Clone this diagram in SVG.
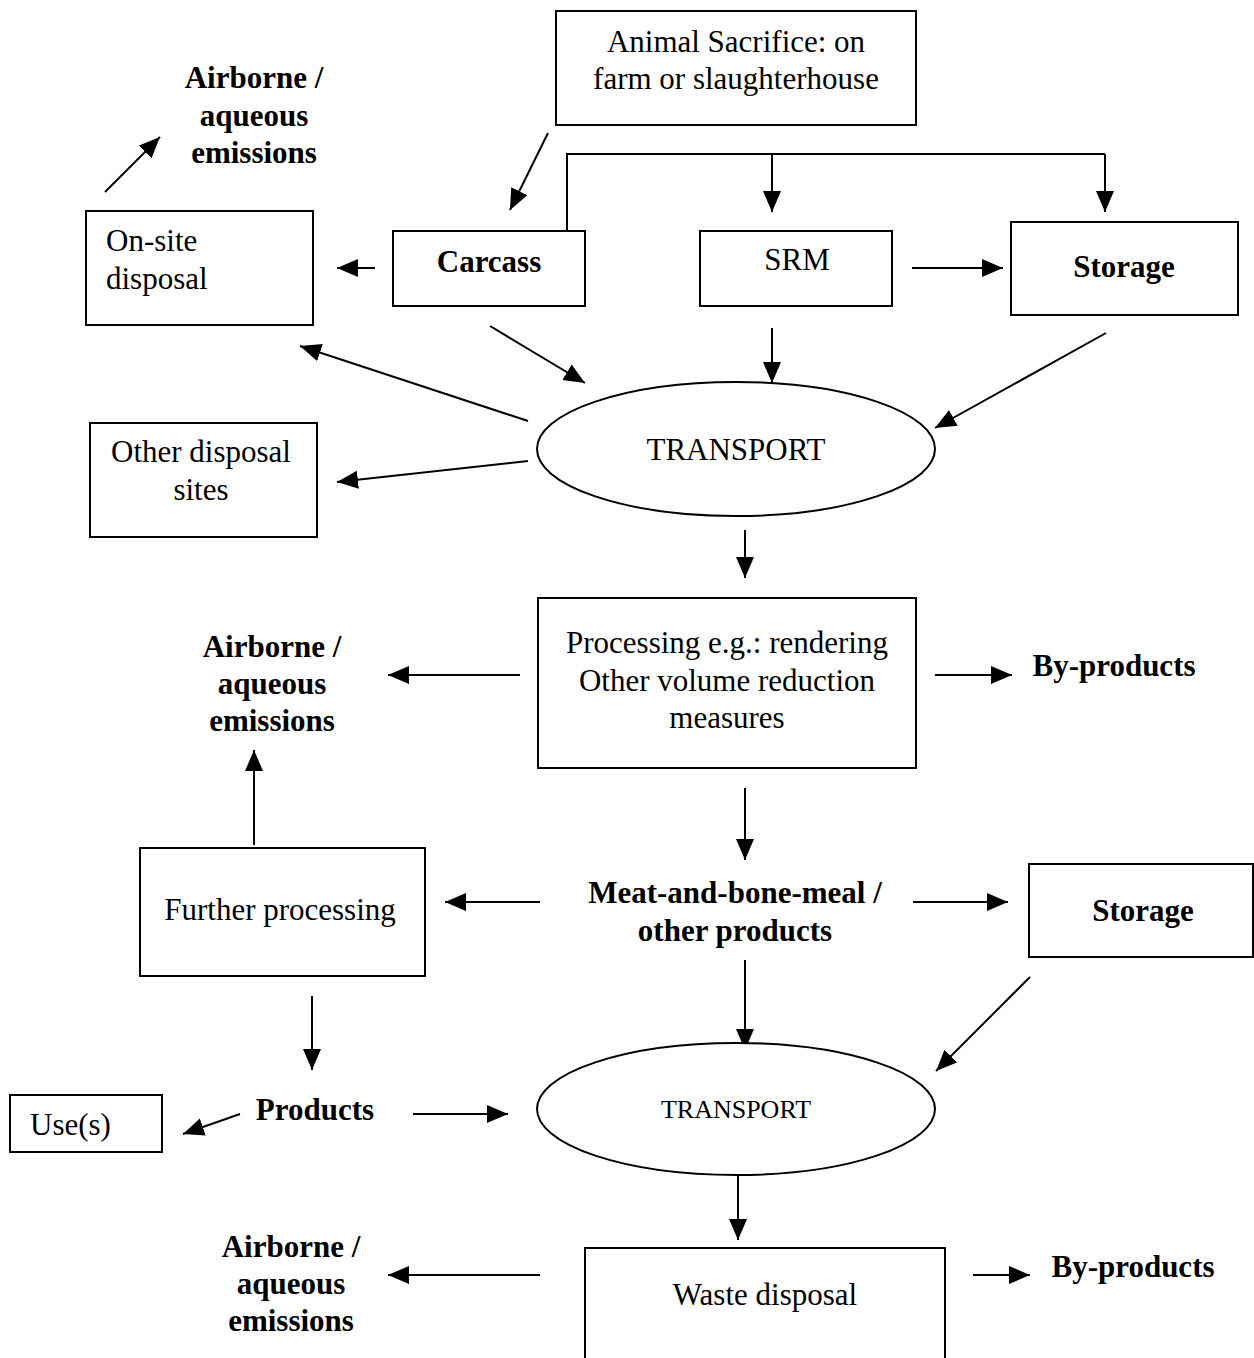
<svg xmlns="http://www.w3.org/2000/svg" width="1254" height="1358" viewBox="0 0 1254 1358">
<style>
.box{fill:#fff;stroke:#000;stroke-width:2}
.t{font-family:"Liberation Serif","Times New Roman",serif;font-size:31px;fill:#000}
.c{text-anchor:middle}
.b{font-weight:bold}
.ln{fill:none;stroke:#000;stroke-width:2}
</style>
<defs>
<marker id="ah" markerUnits="userSpaceOnUse" markerWidth="22" markerHeight="20" refX="21" refY="9" orient="auto">
<path d="M0,0 L21,9 L0,18 z" fill="#000"/>
</marker>
</defs>
<rect width="1254" height="1358" fill="#fff"/>

<g id="connectors">
<path class="ln" d="M567,231 V154 H1105"/>
<line class="ln" x1="772" y1="154" x2="772" y2="212" marker-end="url(#ah)"/>
<line class="ln" x1="1105" y1="154" x2="1105" y2="212" marker-end="url(#ah)"/>
<line class="ln" x1="548" y1="133" x2="510" y2="210" marker-end="url(#ah)"/>
<line class="ln" x1="105" y1="192" x2="160" y2="137" marker-end="url(#ah)"/>
<line class="ln" x1="375" y1="268" x2="337" y2="268" marker-end="url(#ah)"/>
<line class="ln" x1="912" y1="268" x2="1003" y2="268" marker-end="url(#ah)"/>
<line class="ln" x1="490" y1="326" x2="585" y2="383" marker-end="url(#ah)"/>
<line class="ln" x1="772" y1="328" x2="772" y2="383" marker-end="url(#ah)"/>
<line class="ln" x1="1106" y1="333" x2="935" y2="428" marker-end="url(#ah)"/>
<line class="ln" x1="528" y1="421" x2="300" y2="346" marker-end="url(#ah)"/>
<line class="ln" x1="528" y1="461" x2="337" y2="482" marker-end="url(#ah)"/>
<line class="ln" x1="745" y1="530" x2="745" y2="578" marker-end="url(#ah)"/>
<line class="ln" x1="520" y1="675" x2="388" y2="675" marker-end="url(#ah)"/>
<line class="ln" x1="935" y1="675" x2="1012" y2="675" marker-end="url(#ah)"/>
<line class="ln" x1="745" y1="788" x2="745" y2="860" marker-end="url(#ah)"/>
<line class="ln" x1="540" y1="902" x2="445" y2="902" marker-end="url(#ah)"/>
<line class="ln" x1="254" y1="845" x2="254" y2="750" marker-end="url(#ah)"/>
<line class="ln" x1="913" y1="902" x2="1008" y2="902" marker-end="url(#ah)"/>
<line class="ln" x1="745" y1="960" x2="745" y2="1050" marker-end="url(#ah)"/>
<line class="ln" x1="1030" y1="977" x2="936" y2="1071" marker-end="url(#ah)"/>
<line class="ln" x1="312" y1="996" x2="312" y2="1070" marker-end="url(#ah)"/>
<line class="ln" x1="240" y1="1114" x2="183" y2="1134" marker-end="url(#ah)"/>
<line class="ln" x1="413" y1="1114" x2="508" y2="1114" marker-end="url(#ah)"/>
<line class="ln" x1="738" y1="1172" x2="738" y2="1240" marker-end="url(#ah)"/>
<line class="ln" x1="540" y1="1275" x2="388" y2="1275" marker-end="url(#ah)"/>
<line class="ln" x1="973" y1="1275" x2="1030" y2="1275" marker-end="url(#ah)"/>
</g>

<g id="animal-sacrifice">
<rect class="box" x="556" y="11" width="360" height="114"/>
<text class="t c" x="736" y="52">Animal Sacrifice: on</text>
<text class="t c" x="736" y="89">farm or slaughterhouse</text>
</g>
<g id="emissions-1">
<text class="t c b" x="254" y="88">Airborne /</text>
<text class="t c b" x="254" y="126">aqueous</text>
<text class="t c b" x="254" y="163">emissions</text>
</g>
<g id="onsite-disposal">
<rect class="box" x="86" y="211" width="227" height="114"/>
<text class="t" x="106" y="251">On-site</text>
<text class="t" x="106" y="289">disposal</text>
</g>
<g id="carcass">
<rect class="box" x="393" y="231" width="192" height="75"/>
<text class="t c b" x="489" y="272">Carcass</text>
</g>
<g id="srm">
<rect class="box" x="700" y="231" width="192" height="75"/>
<text class="t c" x="797" y="270">SRM</text>
</g>
<g id="storage-1">
<rect class="box" x="1011" y="222" width="227" height="93"/>
<text class="t c b" x="1124" y="277">Storage</text>
</g>
<g id="transport-1">
<ellipse class="box" cx="736" cy="449" rx="199" ry="67"/>
<text class="t c" x="736" y="460">TRANSPORT</text>
</g>
<g id="other-disposal">
<rect class="box" x="90" y="423" width="227" height="114"/>
<text class="t c" x="201" y="462">Other disposal</text>
<text class="t c" x="201" y="500">sites</text>
</g>
<g id="processing">
<rect class="box" x="538" y="598" width="378" height="170"/>
<text class="t c" x="727" y="653">Processing e.g.: rendering</text>
<text class="t c" x="727" y="691">Other volume reduction</text>
<text class="t c" x="727" y="728">measures</text>
</g>
<g id="emissions-2">
<text class="t c b" x="272" y="657">Airborne /</text>
<text class="t c b" x="272" y="694">aqueous</text>
<text class="t c b" x="272" y="731">emissions</text>
</g>
<g id="byproducts-1">
<text class="t c b" x="1114" y="676">By-products</text>
</g>
<g id="mbm">
<text class="t c b" x="735" y="903">Meat-and-bone-meal /</text>
<text class="t c b" x="735" y="941">other products</text>
</g>
<g id="further-processing">
<rect class="box" x="140" y="848" width="285" height="128"/>
<text class="t c" x="280" y="920">Further processing</text>
</g>
<g id="storage-2">
<rect class="box" x="1029" y="864" width="224" height="93"/>
<text class="t c b" x="1143" y="921">Storage</text>
</g>
<g id="products">
<text class="t c b" x="315" y="1120">Products</text>
</g>
<g id="uses">
<rect class="box" x="10" y="1095" width="152" height="57"/>
<text class="t" x="30" y="1135">Use(s)</text>
</g>
<g id="transport-2">
<ellipse class="box" cx="736" cy="1109" rx="199" ry="66"/>
<text class="t c" x="736" y="1118" style="font-size:26px">TRANSPORT</text>
</g>
<g id="waste-disposal">
<rect class="box" x="585" y="1248" width="360" height="130"/>
<text class="t c" x="765" y="1305">Waste disposal</text>
</g>
<g id="emissions-3">
<text class="t c b" x="291" y="1257">Airborne /</text>
<text class="t c b" x="291" y="1294">aqueous</text>
<text class="t c b" x="291" y="1331">emissions</text>
</g>
<g id="byproducts-2">
<text class="t c b" x="1133" y="1277">By-products</text>
</g>
</svg>
